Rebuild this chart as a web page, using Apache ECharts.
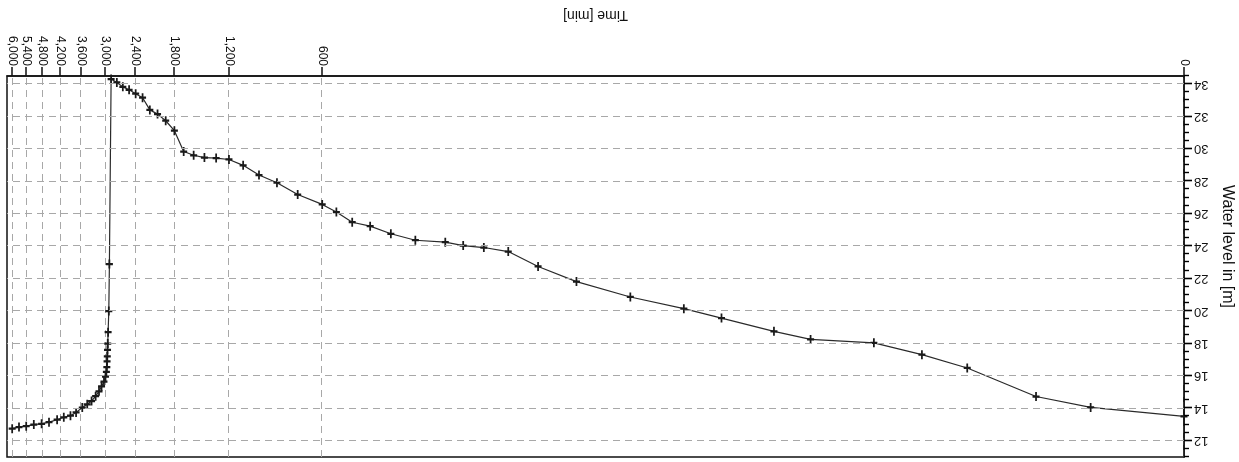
<!DOCTYPE html>
<html>
<head>
<meta charset="utf-8">
<script src="https://cdn.jsdelivr.net/npm/echarts@6/dist/echarts.min.js"></script>
<style>
  html, body { margin: 0; padding: 0; background: #fff; }
  /* the sheet is shown turned half a revolution */
  #chart { width: 1239px; height: 462px; transform: rotate(180deg); }
</style>
</head>
<body>
<div id="chart"></div>
<script>
// Pumping phase: elapsed time [min] and water level [m]
const pumpTime = [0, 1, 2, 4, 6, 9, 15, 20, 30, 40, 60, 90, 120, 150, 180, 210, 240,
  300, 360, 420, 480, 540, 600, 720, 840, 960, 1080, 1200, 1320, 1440, 1560, 1680,
  1800, 1920, 2040, 2160, 2280, 2400, 2520, 2640, 2760, 2880];
const pumpLevel = [13.51, 14.06, 14.73, 16.49, 17.31, 18.04, 18.25, 18.75, 19.57, 20.15,
  20.87, 21.82, 22.75, 23.67, 23.92, 24.04, 24.25, 24.37, 24.77, 25.24, 25.48, 26.11,
  26.58, 27.19, 27.92, 28.39, 28.99, 29.35, 29.44, 29.47, 29.61, 29.84, 31.13, 31.74,
  32.15, 32.41, 33.16, 33.41, 33.65, 33.83, 34.10, 34.31];

// Recovery phase after the pump was stopped
const recTime = [2917, 2930, 2945, 2953, 2958, 2963, 2968, 2973, 2983, 3003, 3037, 3092,
  3151, 3231, 3330, 3439, 3568, 3736, 3895, 4093, 4301, 4568, 4826, 5114, 5411, 5708, 6005];
const recLevel = [22.9, 20.0, 18.7, 18.0, 17.6, 17.2, 16.9, 16.55, 16.25, 15.95, 15.65,
  15.35, 15.05, 14.75, 14.45, 14.25, 14.05, 13.75, 13.55, 13.45, 13.3, 13.15, 13.05,
  13.0, 12.9, 12.85, 12.75];

// Axis ticks
const timeTicks = [0, 600, 1200, 1800, 2400, 3000, 3600, 4200, 4800, 5400, 6000];
const levelTicks = [12, 14, 16, 18, 20, 22, 24, 26, 28, 30, 32, 34];
const timeMax = 6240;
const levelMin = 11;
const levelMax = 34.5;

// time axis is logarithmic in (1 + t) so that t = 0 sits at the origin
const lg = t => Math.log10(1 + t);

// half-metre tick marks along the level axis
const levelMarks = [];
for (let k = levelMin * 2; k <= levelMax * 2; k++) levelMarks.push(k / 2);

const points = pumpTime.map((t, i) => [lg(t), pumpLevel[i]])
  .concat(recTime.map((t, i) => [lg(t), recLevel[i]]));

const font = 'Liberation Sans, Arial, Helvetica, sans-serif';
const ink = '#111';
const gridDash = { color: '#a8a8a8', type: [7, 5], width: 1 };

const chart = echarts.init(document.getElementById('chart'), null, { renderer: 'canvas' });
chart.setOption({
  animation: false,
  backgroundColor: '#fff',
  grid: {
    left: 55, right: 7, top: 5, bottom: 76,
    show: true, borderColor: ink, borderWidth: 1.5,
    outerBoundsMode: 'none'
  },
  xAxis: {
    type: 'value',
    min: 0,
    max: lg(timeMax),
    name: 'Time [min]',
    nameLocation: 'middle',
    nameGap: 54,
    nameTextStyle: { fontFamily: font, fontSize: 14, color: ink },
    axisLine: { show: true, onZero: false, lineStyle: { color: ink, width: 1.5 } },
    axisTick: { show: true, length: 9, customValues: timeTicks.map(lg), lineStyle: { color: ink, width: 1.5 } },
    axisLabel: {
      rotate: 90, margin: 10,
      customValues: timeTicks.map(lg),
      formatter: v => Math.round(Math.pow(10, v) - 1).toLocaleString('en-US'),
      fontFamily: font, fontSize: 12, color: ink,
      hideOverlap: false
    },
    splitLine: { show: true, lineStyle: gridDash }
  },
  yAxis: {
    type: 'value',
    inverse: true,
    min: levelMin,
    max: levelMax,
    position: 'left',
    name: 'Water level in [m]',
    nameLocation: 'middle',
    nameGap: 28,
    nameTextStyle: { fontFamily: font, fontSize: 16, color: ink, padding: [0, 40, 0, 0] },
    axisLine: { show: true, onZero: false, lineStyle: { color: ink, width: 1.5 } },
    axisTick: { show: false },
    axisLabel: { customValues: levelTicks, margin: 10, fontFamily: font, fontSize: 13, color: ink, hideOverlap: false },
    splitLine: { show: false }
  },
  series: [
    {
      type: 'line',
      data: points,
      symbol: 'path://M3,0H5V3H8V5H5V8H3V5H0V3H3Z',
      symbolSize: [7, 9],
      showAllSymbol: true,
      lineStyle: { color: '#2a2a2a', width: 1.2 },
      itemStyle: { color: '#1a1a1a' },
      emphasis: { disabled: true },
      z: 3,
      markLine: {
        // horizontal dashed grid on the even metres
        silent: true,
        symbol: 'none',
        label: { show: false },
        lineStyle: gridDash,
        emphasis: { disabled: true },
        data: levelTicks.map(v => ({ yAxis: v }))
      }
    },
    {
      // tick marks on the level axis: short every half metre, long on the even metres
      type: 'custom',
      silent: true,
      clip: false,
      data: levelMarks.map(v => [0, v]),
      encode: { x: 0, y: 1 },
      renderItem: (params, api) => {
        const v = api.value(1);
        const p = api.coord([0, v]);
        const major = levelTicks.indexOf(v) >= 0;
        const len = major ? 8 : 5;
        return {
          type: 'line',
          shape: { x1: p[0] - len, y1: Math.round(p[1]) + 0.5, x2: p[0], y2: Math.round(p[1]) + 0.5 },
          style: { stroke: '#000', lineWidth: major ? 1.6 : 1.4 }
        };
      },
      z: 4
    }
  ]
});
</script>
</body>
</html>
